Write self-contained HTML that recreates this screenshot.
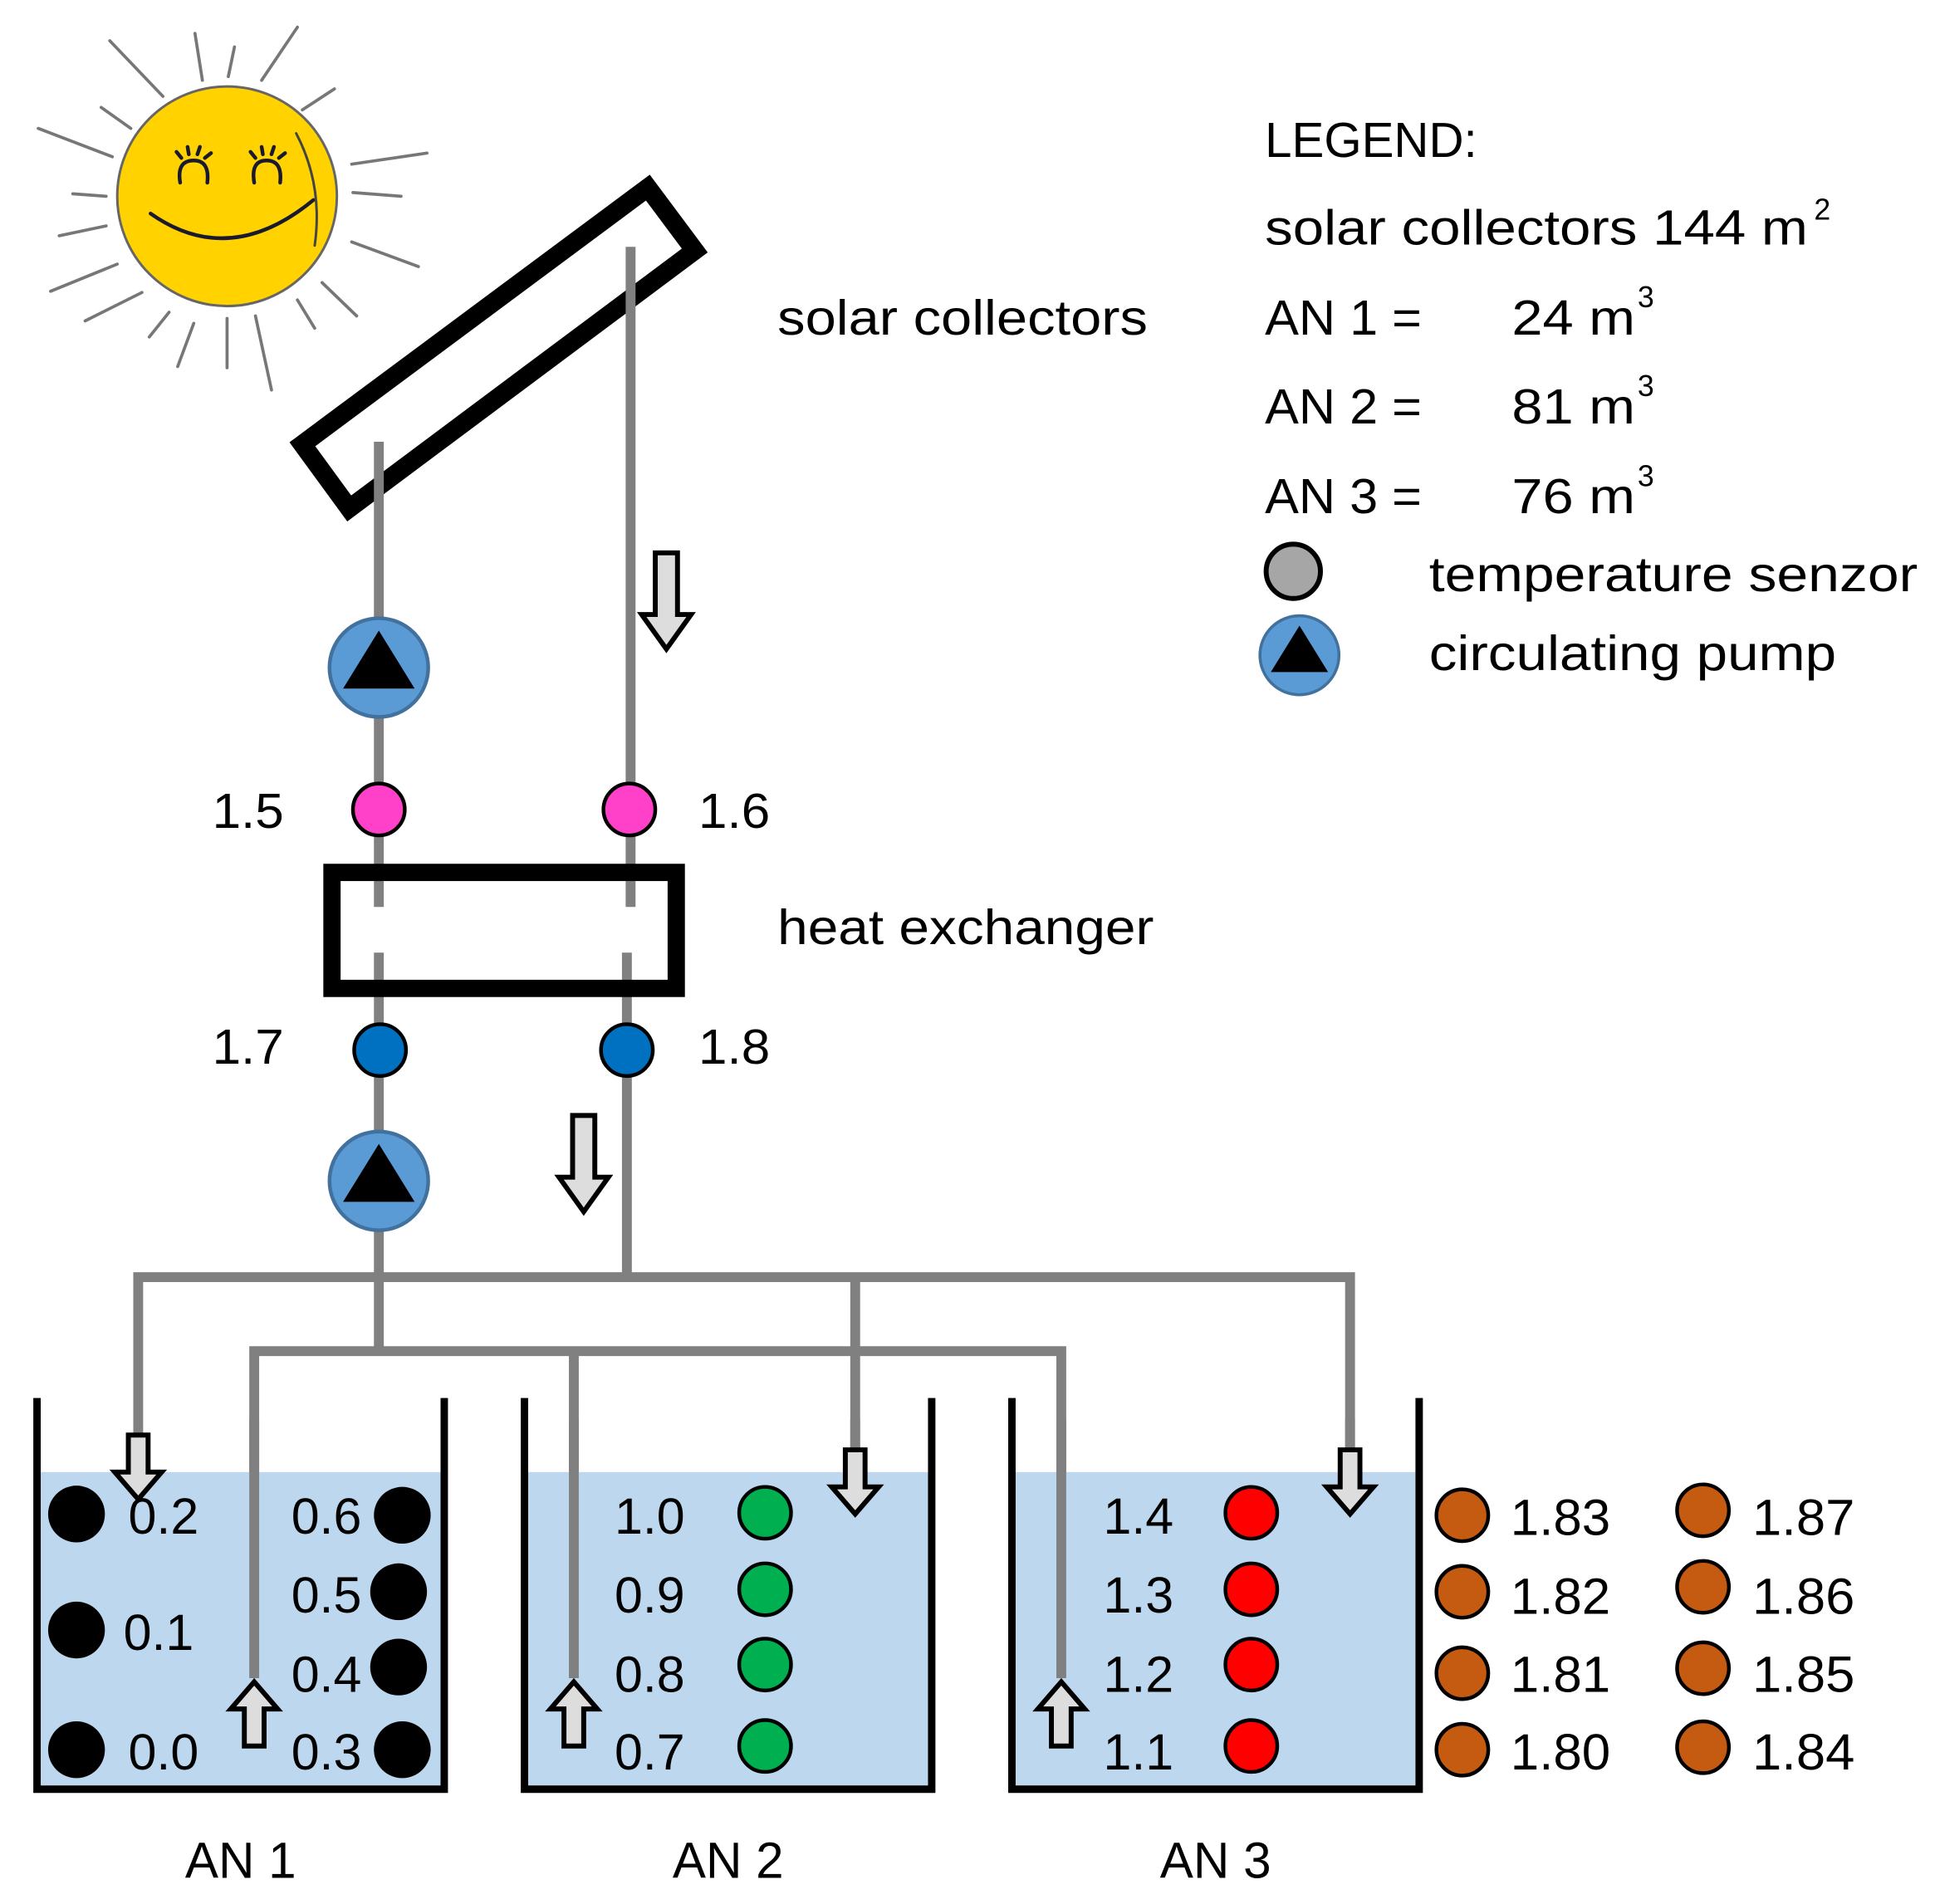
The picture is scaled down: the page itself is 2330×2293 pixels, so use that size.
<!DOCTYPE html>
<html><head><meta charset="utf-8"><style>
html,body{margin:0;padding:0;background:#fff;}
svg{display:block;}
text{font-family:"Liberation Sans",sans-serif;fill:#000;}
</style></head><body>
<svg width="2330" height="2293" viewBox="0 0 1568 1543" xmlns="http://www.w3.org/2000/svg">
<defs>
<polygon id="ad" points="-9,0 9,0 9,50 20,50 0,78 -20,50 -9,50" fill="#ddd" stroke="#000" stroke-width="4"/>
<polygon id="as" points="-8,0 8,0 8,30 19,30 0,52 -19,30 -8,30" fill="#ddd" stroke="#000" stroke-width="4"/>
<g id="pump"><circle r="40" fill="#5B9BD5" stroke="#41719C" stroke-width="3"/><polygon points="0,-30 29,17 -29,17" fill="#000"/></g>
</defs>
<g stroke="#777" stroke-width="2.5" stroke-linecap="round">
<line x1="89" y1="33" x2="132" y2="78"/><line x1="158" y1="27" x2="164" y2="65"/><line x1="190" y1="38" x2="185" y2="62"/><line x1="241" y1="22" x2="212" y2="65"/>
<line x1="271" y1="72" x2="245" y2="89"/><line x1="346" y1="124" x2="285" y2="133"/><line x1="325" y1="159" x2="286" y2="156"/><line x1="339" y1="216" x2="285" y2="196"/>
<line x1="289" y1="256" x2="261" y2="229"/><line x1="255" y1="266" x2="241" y2="243"/><line x1="220" y1="316" x2="207" y2="256"/><line x1="184" y1="298" x2="184" y2="258"/>
<line x1="144" y1="297" x2="157" y2="262"/><line x1="121" y1="273" x2="137" y2="253"/><line x1="69" y1="260" x2="115" y2="237"/><line x1="41" y1="236" x2="95" y2="214"/>
<line x1="48" y1="191" x2="86" y2="183"/><line x1="59" y1="157" x2="86" y2="159"/><line x1="31" y1="104" x2="91" y2="127"/><line x1="82" y1="87" x2="106" y2="104"/>
</g>
<circle cx="184" cy="159" r="89" fill="#FFD200" stroke="#666" stroke-width="2"/>
<g fill="none" stroke="#1a1a2e" stroke-width="3" stroke-linecap="round">
<path d="M122 173 Q186 218 254 162"/>
<path d="M146 148 Q143 130 157 130 Q170 130 168 148"/>
<path d="M206 148 Q203 130 216 130 Q229 130 227 148"/>
<path d="M147 128 l-4 -5 M153 125 l-1 -6 M160 125 l2 -6 M166 128 l5 -4"/>
<path d="M207 128 l-4 -5 M213 125 l-1 -6 M220 125 l2 -6 M226 128 l5 -4"/>
<path d="M240 108 Q262 150 255 199" stroke="#444" stroke-width="2"/>
</g>
<polygon points="245,360 525,152 563,203 283,412" fill="none" stroke="#000" stroke-width="15" stroke-linejoin="miter"/>
<g stroke="#808080" stroke-width="8" fill="none">
<line x1="307" y1="358" x2="307" y2="735"/><line x1="511" y1="200" x2="511" y2="735"/>
<line x1="307" y1="772" x2="307" y2="1095"/><line x1="508" y1="772" x2="508" y2="1035"/>
<polyline points="112,1165 112,1035 1094,1035 1094,1175"/>
<line x1="693" y1="1035" x2="693" y2="1175"/>
<polyline points="206,1355 206,1095 860,1095 860,1355"/>
<line x1="465" y1="1095" x2="465" y2="1355"/>
</g>
<rect x="269" y="707" width="279" height="94" fill="none" stroke="#000" stroke-width="14"/>
<use href="#pump" x="307" y="541"/><use href="#pump" x="307" y="957"/>
<g stroke="#000" stroke-width="3">
<circle cx="307" cy="656" r="21" fill="#FF40C8"/><circle cx="510" cy="656" r="21" fill="#FF40C8"/>
<circle cx="308" cy="851" r="21" fill="#0070C0"/><circle cx="508" cy="851" r="21" fill="#0070C0"/>
</g>
<use href="#ad" x="540" y="448"/><use href="#ad" x="473" y="904"/>
<g font-size="40">
<text x="172" y="671" textLength="58" lengthAdjust="spacingAndGlyphs">1.5</text><text x="566" y="671" textLength="58" lengthAdjust="spacingAndGlyphs">1.6</text>
<text x="172" y="862" textLength="58" lengthAdjust="spacingAndGlyphs">1.7</text><text x="566" y="862" textLength="58" lengthAdjust="spacingAndGlyphs">1.8</text>
<text x="630" y="271" textLength="300" lengthAdjust="spacingAndGlyphs">solar collectors</text>
<text x="630" y="765" textLength="305" lengthAdjust="spacingAndGlyphs">heat exchanger</text>
</g>
<g>
<rect x="33" y="1193" width="324" height="254" fill="#BDD7EE"/>
<rect x="428" y="1193" width="324" height="254" fill="#BDD7EE"/>
<rect x="823" y="1193" width="324" height="254" fill="#BDD7EE"/>
<g fill="none" stroke="#000" stroke-width="6">
<polyline points="30,1133 30,1450 360,1450 360,1133"/>
<polyline points="425,1133 425,1450 755,1450 755,1133"/>
<polyline points="820,1133 820,1450 1150,1450 1150,1133"/>
</g>
</g>
<g stroke="#808080" stroke-width="8">
<line x1="206" y1="1150" x2="206" y2="1360"/><line x1="465" y1="1150" x2="465" y2="1360"/><line x1="860" y1="1150" x2="860" y2="1360"/>
<line x1="693" y1="1150" x2="693" y2="1178"/><line x1="1094" y1="1150" x2="1094" y2="1178"/>
</g>
<use href="#as" x="112" y="1163"/><use href="#as" x="693" y="1175"/><use href="#as" x="1094" y="1175"/>
<use href="#as" transform="translate(206,1415) rotate(180)"/><use href="#as" transform="translate(465,1415) rotate(180)"/><use href="#as" transform="translate(860,1415) rotate(180)"/>
<g fill="#000">
<circle cx="62" cy="1227" r="23"/><circle cx="62" cy="1321" r="23"/><circle cx="62" cy="1418" r="23"/>
<circle cx="326" cy="1228" r="23"/><circle cx="323" cy="1290" r="23"/><circle cx="323" cy="1351" r="23"/><circle cx="326" cy="1418" r="23"/>
</g>
<g stroke="#000" stroke-width="3">
<circle cx="620" cy="1226" r="21" fill="#00B050"/><circle cx="620" cy="1288" r="21" fill="#00B050"/><circle cx="620" cy="1349" r="21" fill="#00B050"/><circle cx="620" cy="1415" r="21" fill="#00B050"/>
<circle cx="1014" cy="1226" r="21" fill="#FF0000"/><circle cx="1014" cy="1288" r="21" fill="#FF0000"/><circle cx="1014" cy="1349" r="21" fill="#FF0000"/><circle cx="1014" cy="1415" r="21" fill="#FF0000"/>
<g fill="#C55A11">
<circle cx="1185" cy="1228" r="21"/><circle cx="1185" cy="1290" r="21"/><circle cx="1185" cy="1356" r="21"/><circle cx="1185" cy="1418" r="21"/>
<circle cx="1380" cy="1224" r="21"/><circle cx="1380" cy="1286" r="21"/><circle cx="1380" cy="1352" r="21"/><circle cx="1380" cy="1416" r="21"/>
</g>
</g>
<g font-size="41">
<text x="104" y="1243">0.2</text><text x="100" y="1337">0.1</text><text x="104" y="1434">0.0</text>
<text x="236" y="1243">0.6</text><text x="236" y="1307">0.5</text><text x="236" y="1371">0.4</text><text x="236" y="1434">0.3</text>
<text x="498" y="1243">1.0</text><text x="498" y="1307">0.9</text><text x="498" y="1371">0.8</text><text x="498" y="1434">0.7</text>
<text x="894" y="1243">1.4</text><text x="894" y="1307">1.3</text><text x="894" y="1371">1.2</text><text x="894" y="1434">1.1</text>
<text x="1224" y="1244" textLength="81" lengthAdjust="spacingAndGlyphs">1.83</text><text x="1224" y="1308" textLength="81" lengthAdjust="spacingAndGlyphs">1.82</text><text x="1224" y="1371" textLength="81" lengthAdjust="spacingAndGlyphs">1.81</text><text x="1224" y="1434" textLength="81" lengthAdjust="spacingAndGlyphs">1.80</text>
<text x="1420" y="1244" textLength="83" lengthAdjust="spacingAndGlyphs">1.87</text><text x="1420" y="1308" textLength="83" lengthAdjust="spacingAndGlyphs">1.86</text><text x="1420" y="1371" textLength="83" lengthAdjust="spacingAndGlyphs">1.85</text><text x="1420" y="1434" textLength="83" lengthAdjust="spacingAndGlyphs">1.84</text>
<text x="150" y="1522" textLength="90" lengthAdjust="spacingAndGlyphs">AN 1</text><text x="545" y="1522" textLength="90" lengthAdjust="spacingAndGlyphs">AN 2</text><text x="940" y="1522" textLength="90" lengthAdjust="spacingAndGlyphs">AN 3</text>
</g>
<g font-size="40">
<text x="1025" y="127" textLength="172" lengthAdjust="spacingAndGlyphs">LEGEND:</text>
<text x="1025" y="198" textLength="440" lengthAdjust="spacingAndGlyphs">solar collectors  144 m</text><text x="1470" y="178" font-size="24">2</text>
<text x="1025" y="271" textLength="127" lengthAdjust="spacingAndGlyphs">AN 1 =</text><text x="1225" y="271" textLength="100" lengthAdjust="spacingAndGlyphs">24  m</text><text x="1327" y="249" font-size="24">3</text>
<text x="1025" y="343" textLength="127" lengthAdjust="spacingAndGlyphs">AN 2 =</text><text x="1225" y="343" textLength="100" lengthAdjust="spacingAndGlyphs">81  m</text><text x="1327" y="321" font-size="24">3</text>
<text x="1025" y="416" textLength="127" lengthAdjust="spacingAndGlyphs">AN 3 =</text><text x="1225" y="416" textLength="100" lengthAdjust="spacingAndGlyphs">76  m</text><text x="1327" y="394" font-size="24">3</text>
<text x="1158" y="479" textLength="396" lengthAdjust="spacingAndGlyphs">temperature senzor</text>
<text x="1158" y="543" textLength="330" lengthAdjust="spacingAndGlyphs">circulating pump</text>
</g>
<circle cx="1048" cy="463" r="22" fill="#A6A6A6" stroke="#000" stroke-width="4"/>
<g transform="translate(1053,531) scale(0.8)"><use href="#pump"/></g>
</svg>
</body></html>
